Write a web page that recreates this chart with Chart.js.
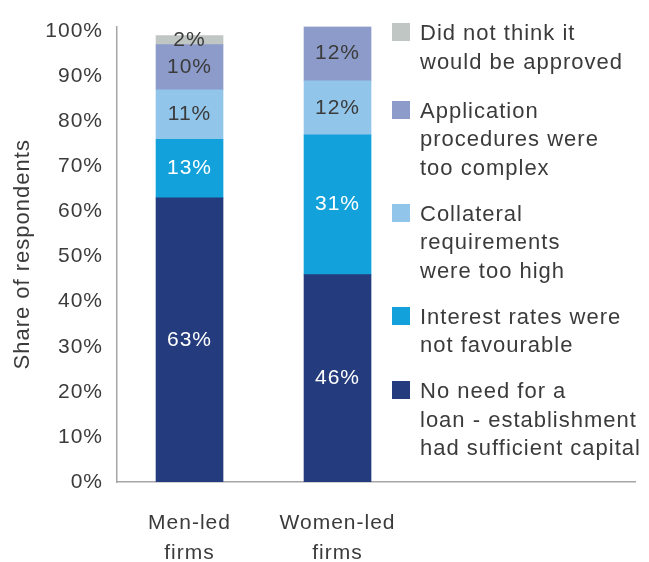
<!DOCTYPE html>
<html>
<head>
<meta charset="utf-8">
<script src="https://cdn.jsdelivr.net/npm/chart.js@4.4.1/dist/chart.umd.min.js"></script>
<style>
  html, body { margin: 0; padding: 0; background: #ffffff; }
  #wrap { position: relative; width: 649px; height: 562px; }
  #legend {
    position: absolute; left: 392px; top: 19px;
    font-family: "Liberation Sans", Arial, sans-serif;
    font-size: 22px; letter-spacing: 1px; line-height: 28.5px; color: #3b3b3b;
  }
  .item { display: flex; align-items: flex-start; margin-bottom: 17.5px; }
  .item:first-child { margin-bottom: 20.5px; }
  .box { width: 18px; height: 18px; margin-top: 4px; margin-right: 10px; flex: none; }
</style>
</head>
<body>
<div id="wrap">
  <canvas id="c" width="649" height="562"></canvas>
  <div id="legend"></div>
</div>
<script>
// Firm groups on the x axis (each label split into lines)
const categories = [['Men-led', 'firms'], ['Women-led', 'firms']];

// Reasons for not applying for a loan, stacked bottom to top (% of respondents)
const noNeed      = [63, 46];
const interest    = [13, 31];
const collateral  = [11, 12];
const application = [10, 12];
const notApproved = [2, null];

// Legend text for each reason, split into lines
const nameNoNeed      = ['No need for a', 'loan - establishment', 'had sufficient capital'];
const nameInterest    = ['Interest rates were', 'not favourable'];
const nameCollateral  = ['Collateral', 'requirements', 'were too high'];
const nameApplication = ['Application', 'procedures were', 'too complex'];
const nameNotApproved = ['Did not think it', 'would be approved'];

// Y axis tick values (%)
const yTicks = [0, 10, 20, 30, 40, 50, 60, 70, 80, 90, 100];

const FONT = '"Liberation Sans", Arial, sans-serif';
const TEXT = '#3b3b3b';
const AXIS = '#a6a6a6';

const series = [
  { name: nameNoNeed,      values: noNeed,      color: '#243b7e', labelColor: '#ffffff' },
  { name: nameInterest,    values: interest,    color: '#12a1da', labelColor: '#ffffff' },
  { name: nameCollateral,  values: collateral,  color: '#92c5ea', labelColor: TEXT },
  { name: nameApplication, values: application, color: '#8c9bc9', labelColor: TEXT },
  { name: nameNotApproved, values: notApproved, color: '#bfc6c3', labelColor: TEXT }
];

const datasets = series.map(s => ({
  label: s.name.join(' '),
  data: s.values.map((v, i) => ({ x: i, y: v })),
  backgroundColor: s.color,
  borderWidth: 0,
  barThickness: 67,
  labelColor: s.labelColor
}));

// Slightly tracked-out lettering for all canvas text
const tracking = {
  id: 'tracking',
  beforeDraw(chart) { chart.ctx.letterSpacing = '1px'; }
};

// Percent labels centred in every segment
const segmentLabels = {
  id: 'segmentLabels',
  afterDatasetsDraw(chart) {
    const ctx = chart.ctx;
    chart.data.datasets.forEach((ds, di) => {
      const meta = chart.getDatasetMeta(di);
      meta.data.forEach((el, i) => {
        const v = ds.data[i].y;
        if (v === null || v === undefined) return;
        const p = el.getProps(['x', 'y', 'base'], true);
        ctx.save();
        ctx.font = '21px ' + FONT;
        ctx.fillStyle = ds.labelColor;
        ctx.textAlign = 'center';
        ctx.textBaseline = 'middle';
        ctx.fillText(v + '%', p.x, (p.y + p.base) / 2);
        ctx.restore();
      });
    });
  }
};

new Chart(document.getElementById('c'), {
  type: 'bar',
  data: { datasets },
  plugins: [tracking, segmentLabels],
  options: {
    responsive: false,
    animation: false,
    events: [],
    layout: { padding: { left: 0, right: 14, top: 22, bottom: 0 } },
    plugins: { legend: { display: false }, tooltip: { enabled: false } },
    scales: {
      x: {
        type: 'linear',
        stacked: true,
        offset: false,
        min: -0.49,
        max: 3.01,
        grid: { display: false, drawTicks: false, offset: false },
        border: { display: true, color: AXIS, width: 1.5 },
        afterBuildTicks(scale) { scale.ticks = categories.map((c, i) => ({ value: i })); },
        afterFit(scale) { scale.height = 80; },
        ticks: {
          padding: 26,
          maxRotation: 0,
          autoSkip: false,
          color: TEXT,
          font: { family: FONT, size: 21, lineHeight: 1.43 },
          callback: (v) => categories[v]
        }
      },
      y: {
        stacked: true,
        min: 0,
        max: 101,
        grid: { display: false, drawTicks: false },
        border: { display: true, color: AXIS, width: 1.5 },
        afterBuildTicks(scale) { scale.ticks = yTicks.map(v => ({ value: v })); },
        afterFit(scale) { scale.width = 117; },
        ticks: {
          padding: 14,
          color: TEXT,
          font: { family: FONT, size: 21 },
          callback: (v) => v + '%'
        },
        title: {
          display: true,
          text: 'Share of respondents',
          color: TEXT,
          font: { family: FONT, size: 22, lineHeight: 1.2 },
          padding: { top: 10, bottom: 0 }
        }
      }
    }
  }
});

// Legend, top to bottom in reverse stacking order
const legend = document.getElementById('legend');
series.slice().reverse().forEach(s => {
  const item = document.createElement('div');
  item.className = 'item';
  const box = document.createElement('div');
  box.className = 'box';
  box.style.background = s.color;
  const text = document.createElement('div');
  s.name.forEach(line => {
    const d = document.createElement('div');
    d.textContent = line;
    text.appendChild(d);
  });
  item.appendChild(box);
  item.appendChild(text);
  legend.appendChild(item);
});
</script>
</body>
</html>
